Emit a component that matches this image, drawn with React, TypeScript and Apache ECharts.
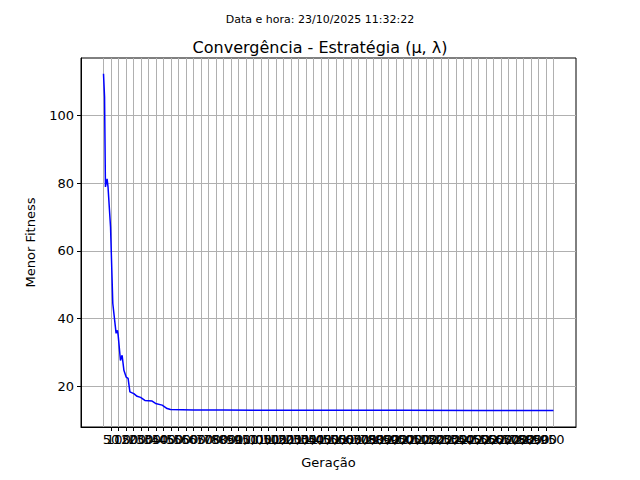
import React, { useEffect, useRef } from 'react';
import * as echarts from 'echarts';

const generations = [0, 7, 13, 24, 30, 47, 62, 84, 93, 98, 113, 124, 136, 151, 164, 176, 202, 224, 247, 276, 324, 347, 391, 424, 447, 600, 800, 1000, 1500, 2000, 2500, 3000];
const fitness = [112.3, 105.4, 78.9, 81.3, 79, 67, 44.5, 35.7, 36.6, 35, 27.7, 29.2, 24.8, 22.8, 22.4, 18.4, 17.9, 17.1, 16.8, 15.9, 15.7, 15, 14.5, 13.5, 13.2, 13.1, 13.1, 13.0, 13.0, 13.0, 12.95, 12.9];
const xTicks = Array.from({ length: 61 }, (_, i) => i * 50);
const yTicks = [20, 40, 60, 80, 100];

const FONT = 'DejaVu Sans';

export default function App() {
  const ref = useRef<HTMLDivElement>(null);

  useEffect(() => {
    if (!ref.current) return;
    const chart = echarts.init(ref.current, null, { renderer: 'svg' });
    chart.setOption({
      animation: false,
      backgroundColor: '#fff',
      textStyle: { fontFamily: FONT },
      title: [
        { text: 'Data e hora: 23/10/2025 11:32:22', left: 'center', top: 9, textStyle: { fontSize: 11, fontWeight: 'normal', color: '#000', fontFamily: FONT } },
        { text: 'Convergência - Estratégia (μ, λ)', left: 'center', top: 34, textStyle: { fontSize: 16, fontWeight: 'normal', color: '#000', fontFamily: FONT } },
      ],
      grid: { left: 81, right: 64, top: 58, bottom: 53, show: true, borderColor: '#000', borderWidth: 1 },
      xAxis: {
        type: 'value', min: -150, max: 3150,
        name: 'Geração', nameLocation: 'middle', nameGap: 29,
        nameTextStyle: { fontSize: 13, color: '#000' },
        axisLine: { onZero: false, lineStyle: { color: '#000' } },
        axisTick: { customValues: xTicks, length: 4, lineStyle: { color: '#000' } },
        axisLabel: { customValues: xTicks, hideOverlap: false, fontSize: 13, color: '#000', margin: 6 },
        splitLine: { show: true, lineStyle: { color: '#b0b0b0', width: 1 } },
      },
      yAxis: {
        type: 'value', min: 8.05, max: 116.95,
        name: 'Menor Fitness', nameLocation: 'middle', nameGap: 44,
        nameTextStyle: { fontSize: 13, color: '#000' },
        axisLine: { show: true, onZero: false, lineStyle: { color: '#000' } },
        axisTick: { show: true, customValues: yTicks, length: 4, lineStyle: { color: '#000' } },
        axisLabel: { customValues: yTicks, fontSize: 13, color: '#000', margin: 7 },
        splitLine: { show: true, lineStyle: { color: '#b0b0b0', width: 1 } },
      },
      series: [{
        type: 'line',
        data: generations.map((g, i) => [g, fitness[i]]),
        symbol: 'none',
        lineStyle: { color: '#0000ff', width: 1.5 },
      }],
    });
    return () => chart.dispose();
  }, []);

  return <div ref={ref} style={{ width: 640, height: 480, margin: -8 }} />;
}
